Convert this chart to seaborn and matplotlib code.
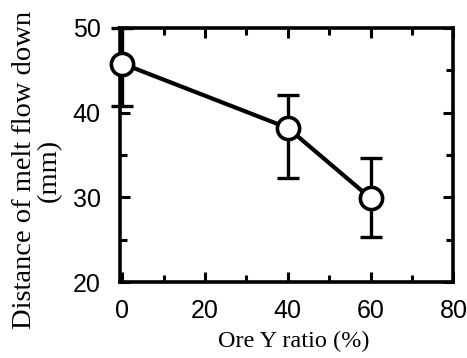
import numpy as np
import pandas as pd
import matplotlib
matplotlib.use("Agg")
import matplotlib.pyplot as plt
import seaborn as sns
from matplotlib.ticker import MultipleLocator

# data
ore_ratio = [0, 40, 60]
distance = [45.8, 38.2, 29.9]
err_low = [40.8, 32.3, 25.3]
err_high = [50.0, 42.1, 34.6]

df = pd.DataFrame({"ratio": ore_ratio, "dist": distance})

sns.set_style("ticks")
plt.rcParams["font.family"] = ["Liberation Serif", "DejaVu Serif"]
plt.rcParams["text.color"] = "black"
plt.rcParams["axes.labelcolor"] = "black"
plt.rcParams["xtick.color"] = "black"
plt.rcParams["ytick.color"] = "black"
plt.rcParams["axes.edgecolor"] = "black"

fig = plt.figure(figsize=(4.67, 3.58), dpi=100)
ax = fig.add_axes([0.257, 0.212, 0.714, 0.71])

yerr = np.array([np.array(distance) - np.array(err_low),
                 np.array(err_high) - np.array(distance)])
ax.errorbar(ore_ratio, distance, yerr=yerr, fmt="none", ecolor="black",
            elinewidth=2.4, capsize=8, capthick=2.4, zorder=2, clip_on=False)

sns.lineplot(data=df, x="ratio", y="dist", ax=ax, color="black", linewidth=3,
             marker="o", markersize=16, markerfacecolor="white",
             markeredgecolor="black", markeredgewidth=2.6, zorder=3,
             clip_on=False)

ax.set_xlim(-0.5, 80)
ax.set_ylim(20, 50)
ax.xaxis.set_major_locator(MultipleLocator(20))
ax.xaxis.set_minor_locator(MultipleLocator(10))
ax.yaxis.set_major_locator(MultipleLocator(10))
ax.yaxis.set_minor_locator(MultipleLocator(5))
ax.tick_params(which="both", direction="in", top=True, right=True, width=2.2)
ax.tick_params(which="major", length=7)
ax.tick_params(which="minor", length=5)
ax.tick_params(axis="x", which="major", pad=12)
ax.tick_params(axis="y", which="major", pad=14)
for s in ax.spines.values():
    s.set_linewidth(2.6)

for lab in ax.get_xticklabels() + ax.get_yticklabels():
    lab.set_fontfamily("Liberation Sans")
    lab.set_fontsize(18)

ax.set_xlabel("Ore Y ratio (%)", fontsize=17.5)
ax.xaxis.set_label_coords(0.52, -0.19)
ax.set_ylabel("Distance of melt flow down\n(mm)", fontsize=20.5,
              linespacing=1.0)
ax.yaxis.set_label_coords(-0.175, 0.44)

fig.savefig("out.png", dpi=100)
